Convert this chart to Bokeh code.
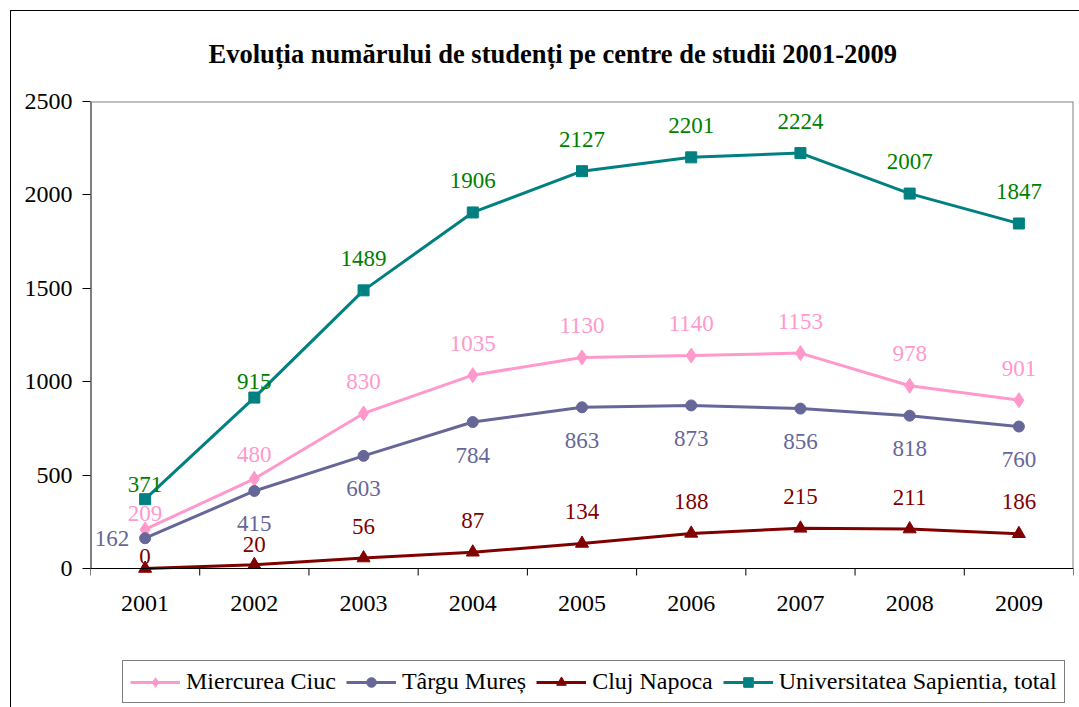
from bokeh.plotting import figure
from bokeh.models import (ColumnDataSource, LabelSet, Legend, LegendItem, FixedTicker,
                          Range1d, Title, Span)
from bokeh.embed import file_html
from bokeh.resources import INLINE

# ---------------- data ----------------
years = [2001, 2002, 2003, 2004, 2005, 2006, 2007, 2008, 2009]
year_labels = ["2001", "2002", "2003", "2004", "2005", "2006", "2007", "2008", "2009"]
miercurea_ciuc = [209, 480, 830, 1035, 1130, 1140, 1153, 978, 901]
targu_mures = [162, 415, 603, 784, 863, 873, 856, 818, 760]
cluj_napoca = [0, 20, 56, 87, 134, 188, 215, 211, 186]
sapientia_total = [371, 915, 1489, 1906, 2127, 2201, 2224, 2007, 1847]
y_ticks = [0, 500, 1000, 1500, 2000, 2500]
y_max = 2500

title_text = "Evoluția numărului de studenți pe centre de studii 2001-2009"
series_names = ["Miercurea Ciuc", "Târgu Mureș", "Cluj Napoca",
                "Universitatea Sapientia, total"]

# ---------------- styling ----------------
FONT = "Liberation Serif"
FS = "23px"
PLOT_H = 467          # px of the value area (0..2500)
BELOW_H = 137         # px of the area below the value axis (tick labels, legend)
PX = y_max / PLOT_H   # data units per pixel

# label offsets (screen px, style only)
dy_mc = [16, 24, 32, 32, 32, 32, 32, 32, 32]
dy_tm = [0, -33, -33, -33, -33, -33, -33, -33, -33]
dx_tm = [-33, 0, 0, 0, 0, 0, 0, 0, 0]
dy_cn = [12, 20, 32, 32, 32, 32, 32, 32, 32]
dy_st = [15, 16, 32, 32, 32, 32, 32, 32, 32]

x_lo, x_hi = years[0] - 0.5, years[-1] + 0.5
p = figure(frame_width=983, frame_height=PLOT_H + BELOW_H, output_backend="svg",
           toolbar_location=None,
           x_range=Range1d(x_lo, x_hi), y_range=Range1d(-BELOW_H * PX, y_max),
           min_border_left=90, min_border_right=6, min_border_top=101,
           min_border_bottom=2)

# outer chart border (top and left edges) drawn as host background
p.styles = {
    "background": ("linear-gradient(#000,#000) 10px 10px / 1px 100% no-repeat, "
                   "linear-gradient(#000,#000) 10px 10px / 100% 1px no-repeat, white"),
}

p.title = Title(text=title_text, align="left", text_font=FONT,
                text_font_size="26.5px", text_font_style="bold", text_color="black",
                offset=118, standoff=65)

p.grid.visible = False
p.outline_line_color = None
p.background_fill_color = "white"
p.border_fill_color = None
p.xaxis.visible = False

# y axis (ticks + labels from Bokeh; its line drawn only over the value area)
ya = p.yaxis[0]
ya.ticker = FixedTicker(ticks=y_ticks)
ya.major_tick_in = 0
ya.major_tick_out = 8
ya.minor_tick_out = 0
ya.minor_tick_in = 0
ya.axis_line_color = None
ya.major_tick_line_color = "black"
ya.major_label_text_font = FONT
ya.major_label_text_font_size = "24px"
ya.major_label_text_color = "black"
ya.major_label_standoff = 10

# plot-area borders
p.segment(x0=[x_lo], y0=[0], x1=[x_lo], y1=[y_max], line_color="black", line_width=2)
p.segment(x0=[x_lo], y0=[y_max], x1=[x_hi], y1=[y_max], line_color="#808080", line_width=2)
p.segment(x0=[x_hi], y0=[0], x1=[x_hi], y1=[y_max], line_color="#808080", line_width=2)
p.add_layout(Span(location=0, dimension="width", line_color="black", line_width=1))

# category axis: ticks between years, labels under each year
bounds = [y - 0.5 for y in years] + [x_hi]
p.segment(x0=bounds, y0=[0] * len(bounds), x1=bounds, y1=[-7 * PX] * len(bounds),
          line_color="black", line_width=1)
cat_src = ColumnDataSource(dict(x=years, y=[0] * len(years), t=year_labels))
p.add_layout(LabelSet(x="x", y="y", text="t", source=cat_src, y_offset=-35,
                      text_font=FONT, text_font_size="24px", text_color="black",
                      text_align="center", text_baseline="middle"))

specs = [
    (miercurea_ciuc, "#FF99CC", "diamond", 15, "#FF99CC", dy_mc, [0] * 9),
    (targu_mures, "#666699", "circle", 11, "#666699", dy_tm, dx_tm),
    (cluj_napoca, "#800000", "triangle", 13, "#800000", dy_cn, [0] * 9),
    (sapientia_total, "#008080", "square", 11, "#008000", dy_st, [0] * 9),
]

items = []
for name, (vals, col, mk, sz, lcol, dy, dx) in zip(series_names, specs):
    src = ColumnDataSource(dict(x=years, y=vals, t=[str(v) for v in vals], dy=dy, dx=dx))
    ln = p.line("x", "y", source=src, line_color=col, line_width=3)
    sc = p.scatter("x", "y", source=src, marker=mk, size=sz, fill_color=col, line_color=col)
    lbl = LabelSet(x="x", y="y", text="t", source=src, x_offset="dx", y_offset="dy",
                   text_font=FONT, text_font_size=FS, text_color=lcol,
                   text_align="center", text_baseline="middle")
    p.add_layout(lbl)
    items.append(LegendItem(label=name, renderers=[ln, sc]))

legend = Legend(items=items, orientation="horizontal", location=(32, 2),
                label_text_font=FONT, label_text_font_size="24px", label_text_color="black",
                glyph_width=50, glyph_height=24, label_standoff=6, spacing=10,
                padding=7, margin=0, border_line_color="black", border_line_width=1,
                label_height=24, background_fill_color="white", background_fill_alpha=1)
p.add_layout(legend, "center")

open("out.html", "w").write(file_html(p, INLINE))
